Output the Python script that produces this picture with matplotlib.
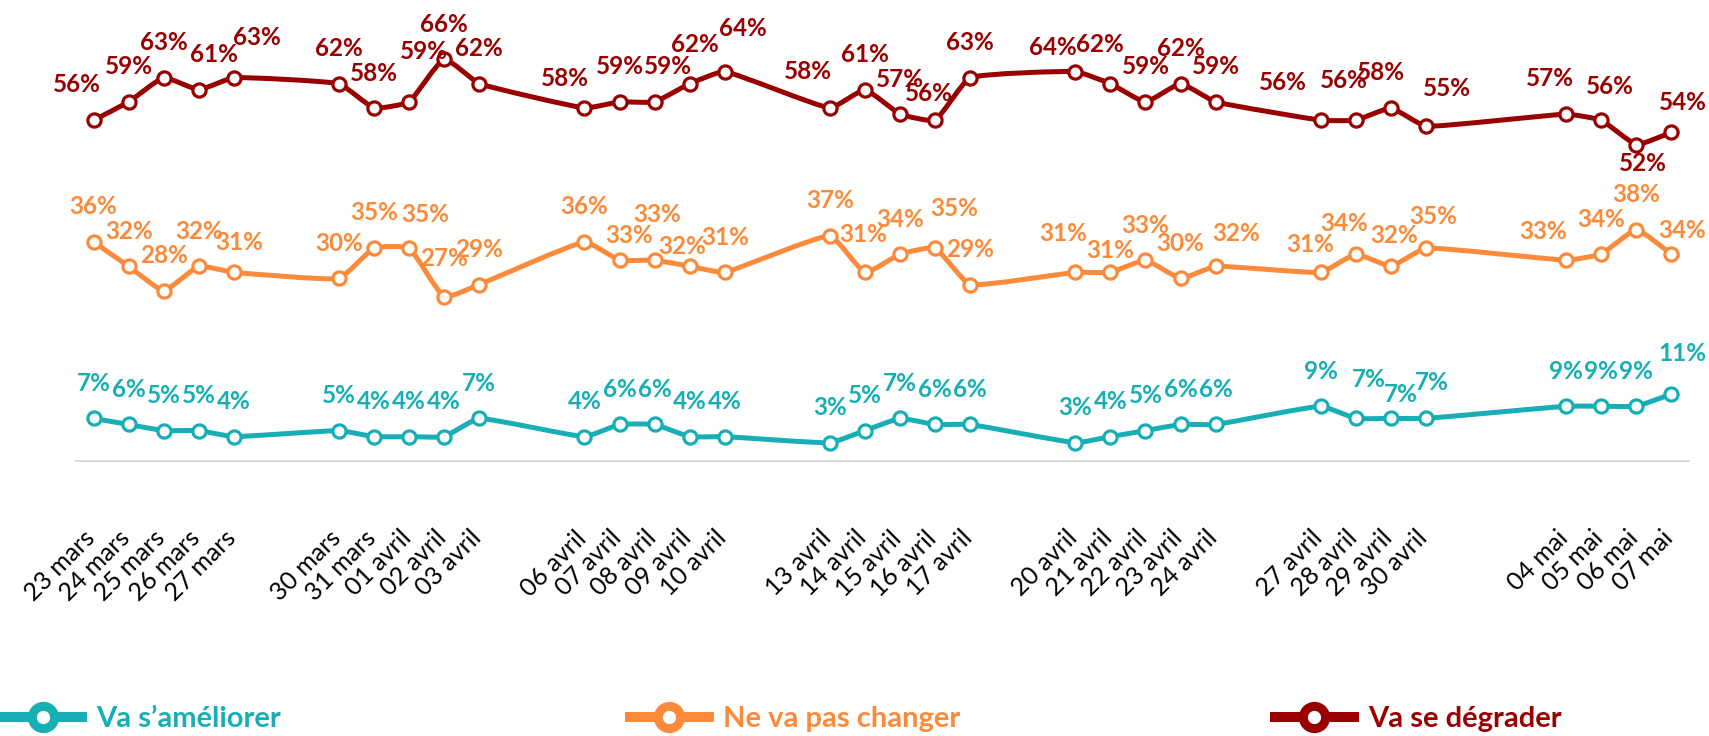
import matplotlib
matplotlib.use("Agg")
import matplotlib.pyplot as plt
import matplotlib.dates as mdates
import matplotlib.transforms as mtransforms
from matplotlib.path import Path
from matplotlib.patches import PathPatch
from matplotlib.lines import Line2D
import numpy as np
import datetime as dt

plt.rcParams['font.family'] = ['Lato', 'DejaVu Sans']

# --- data ---
dates = ["2020-03-23", "2020-03-24", "2020-03-25", "2020-03-26", "2020-03-27",
         "2020-03-30", "2020-03-31", "2020-04-01", "2020-04-02", "2020-04-03",
         "2020-04-06", "2020-04-07", "2020-04-08", "2020-04-09", "2020-04-10",
         "2020-04-13", "2020-04-14", "2020-04-15", "2020-04-16", "2020-04-17",
         "2020-04-20", "2020-04-21", "2020-04-22", "2020-04-23", "2020-04-24",
         "2020-04-27", "2020-04-28", "2020-04-29", "2020-04-30",
         "2020-05-04", "2020-05-05", "2020-05-06", "2020-05-07"]
date_labels = ["23 mars", "24 mars", "25 mars", "26 mars", "27 mars",
               "30 mars", "31 mars", "01 avril", "02 avril", "03 avril",
               "06 avril", "07 avril", "08 avril", "09 avril", "10 avril",
               "13 avril", "14 avril", "15 avril", "16 avril", "17 avril",
               "20 avril", "21 avril", "22 avril", "23 avril", "24 avril",
               "27 avril", "28 avril", "29 avril", "30 avril",
               "04 mai", "05 mai", "06 mai", "07 mai"]
ameliorer = [7, 6, 5, 5, 4, 5, 4, 4, 4, 7, 4, 6, 6, 4, 4, 3, 5, 7, 6, 6,
             3, 4, 5, 6, 6, 9, 7, 7, 7, 9, 9, 9, 11]
pas_changer = [36, 32, 28, 32, 31, 30, 35, 35, 27, 29, 36, 33, 33, 32, 31, 37, 31, 34, 35, 29,
               31, 31, 33, 30, 32, 31, 34, 32, 35, 33, 34, 38, 34]
degrader = [56, 59, 63, 61, 63, 62, 58, 59, 66, 62, 58, 59, 59, 62, 64, 58, 61, 57, 56, 63,
            64, 62, 59, 62, 59, 56, 56, 58, 55, 57, 56, 52, 54]
series_names = ["Va s\u2019améliorer", "Ne va pas changer", "Va se dégrader"]

# --- style ---
TEAL = "#17AFB5"
ORANGE = "#FB8B3B"
RED = "#990000"

# label nudges in pixels: index -> (dx, height above point)
nudge_red = {0: (-17, 36), 3: (15, 35), 4: (23, 40), 7: (15, 50), 10: (-20, 30),
             12: (13, 35), 13: (5, 39), 14: (18, 43), 15: (-22, 37), 18: (-6, 27),
             20: (-22, 24), 21: (-11, 39), 25: (-38, 38), 26: (-12, 40), 27: (-10, 36),
             28: (21, 38), 29: (-16, 36), 30: (9, 34), 31: (6, -19), 32: (11, 30)}
nudge_orange = {4: (5, 30), 7: (16, 33), 8: (0, 38), 11: (10, 25), 12: (3, 46), 13: (-8, 20),
                16: (-2, 38), 18: (19, 39), 20: (-12, 39), 21: (0, 22), 24: (20, 33),
                25: (-11, 28), 26: (-12, 31), 27: (3, 31), 28: (7, 31), 29: (-23, 29),
                32: (11, 24)}
nudge_teal = {26: (13, 39), 27: (10, 24), 28: (6, 36), 32: (11, 41)}

W, H, DPI = 1709, 736, 100
PX = 72.0 / DPI
AX_LEFT, AX_RIGHT, AX_BOTTOM, AX_TOP = 76, 1689, 461, 35
YMAX = 70


def smooth_path(x, y, sx, sy, k=0.12):
    # Excel-like smoothed line: Bezier with tangents scaled by chord length,
    # computed in pixel-like space then mapped back to data units
    pts = np.column_stack([np.asarray(x) * sx, np.asarray(y) * sy]).astype(float)
    n = len(pts)
    tang = []
    for i in range(n):
        a = pts[i - 1] if i > 0 else pts[i]
        b = pts[i + 1] if i + 1 < n else pts[i]
        d = b - a
        nrm = np.hypot(*d)
        tang.append(d / nrm if nrm > 0 else d)
    verts = [pts[0]]
    codes = [Path.MOVETO]
    for i in range(n - 1):
        p1, p2 = pts[i], pts[i + 1]
        seg = np.hypot(*(p2 - p1))
        verts += [p1 + tang[i] * seg * k, p2 - tang[i + 1] * seg * k, p2]
        codes += [Path.CURVE4] * 3
    verts = np.array(verts) / np.array([sx, sy])
    return Path(verts, codes)


xnum = mdates.date2num([dt.datetime.strptime(d, "%Y-%m-%d") for d in dates])
xlo, xhi = xnum[0] - 0.5, xnum[-1] + 0.5
sx = (AX_RIGHT - AX_LEFT) / (xhi - xlo)
sy = (AX_BOTTOM - AX_TOP) / YMAX

fig = plt.figure(figsize=(W / DPI, H / DPI), dpi=DPI)
ax = fig.add_axes([AX_LEFT / W, 1 - AX_BOTTOM / H, (AX_RIGHT - AX_LEFT) / W,
                   (AX_BOTTOM - AX_TOP) / H])
ax.set_xlim(xlo, xhi)
ax.set_ylim(0, YMAX)

for vals, color, nudge in [(ameliorer, TEAL, nudge_teal),
                           (pas_changer, ORANGE, nudge_orange),
                           (degrader, RED, nudge_red)]:
    patch = PathPatch(smooth_path(xnum, vals, sx, sy), facecolor="none", edgecolor=color,
                      lw=5 * PX, capstyle="round", joinstyle="round", zorder=2)
    ax.add_patch(patch)
    ax.plot(xnum, vals, linestyle="none", marker="o", markersize=9.5,
            markerfacecolor="white", markeredgecolor=color, markeredgewidth=2.3,
            zorder=3, clip_on=False)
    for i, (xv, v) in enumerate(zip(xnum, vals)):
        dx, dy = nudge.get(i, (0, 35))
        ax.annotate(f"{v}%", (xv, v), xytext=(dx * PX, dy * PX), textcoords="offset points",
                    ha="center", va="center", fontsize=17.5, fontweight="bold",
                    color=color, annotation_clip=False, zorder=4)

for s in ["top", "left", "right"]:
    ax.spines[s].set_visible(False)
ax.spines["bottom"].set_color("#D9D9D9")
ax.spines["bottom"].set_linewidth(2 * PX)
ax.set_yticks([])
ax.set_xticks(xnum)
ax.set_xticklabels(date_labels, rotation=45, ha="right", va="top", fontsize=18)
ax.tick_params(axis="x", length=0, pad=47)
shift = mtransforms.ScaledTranslation(6 / DPI, 0, fig.dpi_scale_trans)
for lab in ax.get_xticklabels():
    lab.set_transform(lab.get_transform() + shift)

# legend: three separate entries spread across the bottom
legend_x = [3.6, 630, 1275]
for name, color, lx in zip(series_names, [TEAL, ORANGE, RED], legend_x):
    h = Line2D([], [], color=color, lw=7.2, marker="o", markersize=16,
               markerfacecolor="white", markeredgecolor=color, markeredgewidth=6.5)
    fig.legend([h], [name], loc="center left", bbox_to_anchor=(lx / W, 1 - 719 / H),
               frameon=False, borderpad=0, borderaxespad=0, handlelength=2.7,
               handletextpad=0.48, labelcolor=color,
               prop={"weight": "bold", "size": 21})

fig.savefig("out.png", dpi=DPI)
